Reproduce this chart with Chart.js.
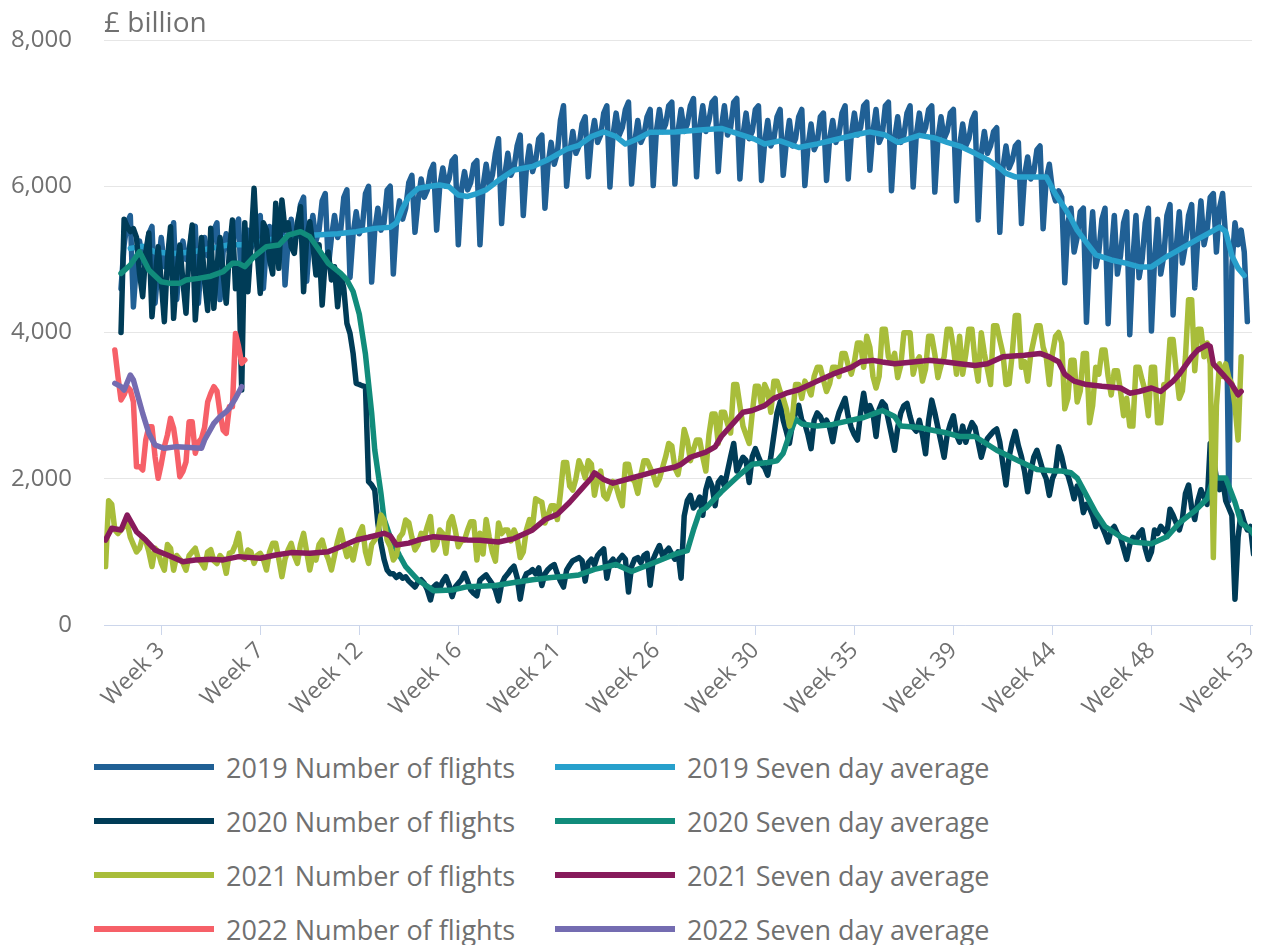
<!DOCTYPE html>
<html lang="en">
<head>
<meta charset="utf-8">
<title>Number of flights, seven day average</title>
<script src="https://cdn.jsdelivr.net/npm/chart.js@4.4.1/dist/chart.umd.min.js"></script>
<style>
  html, body { margin: 0; padding: 0; background: #ffffff; }
  body { width: 1265px; height: 945px; position: relative; overflow: hidden; font-family: 'Open Sans', sans-serif; }
  #wrap { position: absolute; left: 0; top: 0; width: 1265px; height: 740px; }
  #unit { position: absolute; left: 104px; top: 7px; font-size: 28px; line-height: 28px; color: #707070; }
  #legend { position: absolute; left: 0; top: 740px; width: 1265px; height: 205px; }
  .item { position: absolute; height: 54px; display: flex; align-items: center; font-size: 27px; color: #707070; white-space: nowrap; }
  .swatch { width: 120px; height: 6px; margin-right: 12px; }
</style>
</head>
<body>
<div id="wrap"><canvas id="chart" width="1265" height="740"></canvas></div>
<div id="unit">£ billion</div>
<div id="legend"></div>
<script>
// x axis: day slots, labelled by week
const tickDays = [18, 50, 82, 114, 146, 178, 210, 242, 274, 306, 338, 370];
const tickLabels = ['Week 3', 'Week 7', 'Week 12', 'Week 16', 'Week 21', 'Week 26',
                    'Week 30', 'Week 35', 'Week 39', 'Week 44', 'Week 48', 'Week 53'];
const yTicks = [0, 2000, 4000, 6000, 8000];

const names = ['2019 Number of flights', '2019 Seven day average',
               '2020 Number of flights', '2020 Seven day average',
               '2021 Number of flights', '2021 Seven day average',
               '2022 Number of flights', '2022 Seven day average'];
const colours = ['#206095', '#27a0cc', '#003c57', '#118c7b',
                 '#a8bd3a', '#871a5b', '#f66068', '#746cb1'];

// daily counts, first value sits on slot startXXXX
const start2019 = 5;
const flights2019 = [4600, 5200, 5500, 5600,
  4350, 4950, 5250, 4950, 5050, 5350, 5450,
  4400, 4900, 5300, 4900, 5000, 5300, 5500,
  4450, 5000, 5250, 5000, 5100, 5400, 5450,
  4400, 5050, 5300, 5050, 5100, 5400, 5500,
  4450, 5100, 5350, 5100, 5150, 5450, 5550,
  4500, 5150, 5400, 5150, 5250, 5500, 5600,
  4600, 5200, 5450, 5200, 5300, 5600, 5750,
  4650, 5250, 5550, 5250, 5350, 5750, 5850,
  4700, 5300, 5600, 5250, 5400, 5800, 5900,
  4900, 5300, 5600, 5300, 5400, 5850, 5950,
  4750, 5350, 5650, 5350, 5450, 5900, 6000,
  4690, 5400, 5700, 5400, 5500, 5950, 6000,
  4800, 5500, 5800, 5550, 5700, 6050, 6150,
  5370, 5800, 6100, 5850, 5950, 6200, 6300,
  5400, 6000, 6250, 6000, 6100, 6350, 6400,
  5200, 5950, 6200, 5950, 6050, 6300, 6350,
  5200, 6000, 6300, 6000, 6150, 6450, 6650,
  5490, 6150, 6450, 6150, 6250, 6550, 6700,
  5600, 6250, 6550, 6200, 6350, 6650, 6700,
  5700, 6300, 6600, 6300, 6450, 6900, 7100,
  6000, 6450, 6750, 6450, 6550, 6850, 6950,
  6130, 6650, 6900, 6600, 6700, 7000, 7100,
  5990, 6700, 7000, 6700, 6800, 7050, 7150,
  6030, 6600, 6900, 6600, 6700, 6950, 7050,
  6010, 6750, 7050, 6750, 6850, 7100, 7150,
  6030, 6750, 7050, 6750, 6850, 7100, 7200,
  6130, 6800, 7100, 6750, 6900, 7150, 7200,
  6200, 6800, 7100, 6700, 6800, 7150, 7200,
  6100, 6700, 7000, 6650, 6750, 7050, 7100,
  6080, 6600, 6900, 6550, 6650, 6950, 7050,
  6150, 6600, 6900, 6550, 6650, 6950, 7050,
  6010, 6550, 6850, 6500, 6600, 6950, 7000,
  6080, 6650, 6900, 6600, 6700, 7000, 7100,
  6100, 6700, 7000, 6700, 6800, 7100, 7150,
  6220, 6750, 7050, 6600, 6700, 7100, 7150,
  5940, 6650, 6950, 6600, 6700, 7000, 7100,
  5990, 6700, 7000, 6700, 6800, 7050, 7100,
  5920, 6650, 6950, 6650, 6750, 7000, 7050,
  5800, 6550, 6850, 6550, 6650, 6900, 7000,
  5540, 6450, 6750, 6450, 6550, 6750, 6800,
  5370, 6250, 6550, 6250, 6350, 6550, 6600,
  5490, 6150, 6400, 6100, 6200, 6500, 6550,
  5420, 6100, 6300, 5950, 5800, 5938, 5850,
  4680, 5500, 5700, 5100, 5300, 5650, 5700,
  4140, 5100, 5650, 4900, 5100, 5550, 5700,
  4120, 5050, 5600, 4800, 5050, 5500, 5650,
  3970, 5000, 5600, 4750, 5000, 5500, 5700,
  4020, 5000, 5550, 4800, 5050, 5600, 5750,
  4240, 5150, 5650, 4950, 5200, 5600, 5750,
  4610, 5300, 5800, 5200, 5400, 5850, 5900,
  5100, 5700, 5900, 5300, 1700, 4900, 5500,
  5200, 5400, 5100, 4150];

const start2020 = 5;
const flights2020 = [4000, 5550, 5450, 5380, 5420, 5300, 4800, 4490, 5100, 5360, 4216, 4750, 5174,
  4700, 4148, 5000, 5447, 4194, 4800, 5196, 4700, 4262, 5100, 5470, 4171, 4750,
  5300, 4700, 4300, 5424, 4330, 4900, 5300, 4800, 4399, 5100, 5538, 4600, 4900, 3213, 5500,
  4558, 5200, 5971, 5100, 4535, 5500, 5400, 5000, 4800, 5766, 4877, 5812, 5400, 5500, 5173,
  5082, 5500, 5720, 4558, 5300, 5515, 5200, 4786, 5200, 4376, 5000, 5100, 4718, 4900, 4353, 4800,
  4600, 4125, 3988, 3715, 3305, 3290, 3270, 3259, 1960, 1915, 1846, 1390, 1117, 900, 752, 700,
  700, 650, 690, 640, 660, 600, 560, 520, 590, 620, 570, 480, 342, 520, 560, 500, 600, 661, 550,
  388, 520, 570, 620, 707, 600, 480, 433, 400, 615,
  650, 685, 620, 560, 480, 330, 560, 650, 700, 760, 803, 650, 354, 600, 700, 720, 756, 700, 780,
  540, 700, 760, 800, 827, 700, 600, 519, 750, 820, 880, 900, 922,
  880, 600, 850, 900, 820, 950, 1000, 1040, 640, 850, 900, 820, 900, 950, 900, 450, 800, 900,
  922, 850, 950, 980, 543, 900, 1000, 1087, 950, 1000, 1050, 969,
  900, 1000, 640, 1490, 1700, 1773, 1600, 1650, 1750, 1500, 1850, 2000, 1900, 1631, 1950, 2010,
  1900, 2100, 2300, 2483, 2105, 2200, 2294, 2250, 1950, 2300, 2412, 2300, 2200, 2152, 2050,
  2300, 2600, 2900, 3051, 2800, 2650, 2483, 2750, 2900, 3004, 2800, 2750, 2600, 2412, 2800, 2900,
  2850, 2750, 2800, 2700, 2507, 2750, 2900, 3000, 3099, 2850, 2700, 2600, 2530, 2900, 3170,
  2900, 3000, 2900, 2578, 2950, 3051, 3000, 2800, 2600, 2389, 2700, 2900, 3000, 3030, 2850, 2700,
  2650, 2800, 2600, 2341, 2800, 3075, 2900, 2700, 2500, 2294, 2600, 2750, 2862, 2600, 2500,
  2720, 2500, 2650, 2767, 2700, 2500, 2294, 2450, 2550, 2600, 2650, 2680, 2500, 2200, 1915,
  2300, 2500, 2649, 2450, 2300, 2100, 1821, 2100, 2300, 2389, 2250, 2100, 2000, 1773, 2000,
  2100, 2436, 2300, 2105, 2050, 1900, 1726, 1900, 1800, 1537, 1650, 1600, 1500, 1347, 1450, 1350,
  1250, 1135, 1300, 1347, 1250, 1200, 1050, 898, 1100, 1200, 1150, 1250, 1300, 1050, 898,
  1000, 1300, 1250, 1350, 1300, 1250, 1584, 1500, 1394, 1300, 1450, 1800, 1915, 1600, 1442, 1700,
  1850, 1750, 1650, 2483, 2300, 2000, 1850, 2000, 1700, 1600, 1500, 353, 1200, 1550, 1400, 1300,
  1347, 969];

const start2021 = 0;
const flights2021 = [800, 1700, 1650, 1300, 1250, 1300, 1350,
  1400, 1200, 1100, 1000, 1050, 1200, 1150,
  1000, 800, 1050, 1000, 850, 750, 1100,
  1050, 750, 950, 900, 850, 750, 950,
  1000, 1050, 900, 850, 780, 1000, 1030,
  880, 840, 950, 900, 707, 980, 1000,
  1100, 1253, 935, 900, 1026, 1000, 843,
  950, 980, 900, 752, 1000, 1117, 1117,
  900, 661, 900, 1026, 1117, 950, 843,
  1100, 1253, 1000, 752, 950, 889, 1100,
  1162, 1000, 900, 752, 950, 1150, 1299,
  1100, 935, 1050, 889, 1100, 1250, 1345,
  1000, 843, 1100, 1162, 1254, 1504, 1436,
  1162, 1071, 889, 950, 1200, 1254, 1436,
  1400, 1200, 1026, 1100, 1254, 1200, 1350,
  1482, 1026, 1100, 1299, 1250, 980, 1400,
  1482, 1300, 1071, 1150, 1162, 1300, 1413,
  1413, 889, 1254, 970, 1442, 1200, 1000,
  874, 1395, 1250, 1300, 1300, 1150, 1300,
  1200, 922, 1000, 1300, 1442, 1350, 1726,
  1700, 1679, 1395, 1500, 1631, 1631, 1442,
  1800, 2223, 2223, 1900, 1845, 2000, 2247,
  2150, 2010, 2247, 2200, 1773, 2000, 2105,
  1773, 1726, 1850, 1963, 1900, 1750, 1631,
  2200, 2200, 2000, 1963, 1800, 2050, 2247,
  2247, 2150, 2057, 1915, 2000, 2152, 2300,
  2483, 2450, 2150, 2057, 2300, 2673, 2531,
  2247, 2400, 2531, 2531, 2300, 2105, 2600,
  2886, 2886, 2483, 2909, 2909, 2750, 2625,
  3288, 3288, 3000, 2720, 2600, 2483, 2900,
  3264, 3264, 3000, 3288, 3193, 2909, 3335,
  3335, 3193, 3100, 2957, 2720, 2850, 3288,
  3288, 3100, 3335, 3250, 3146, 3400, 3524,
  3524, 3350, 3193, 3300, 3524, 3524, 3400,
  3714, 3714, 3550, 3430, 3600, 3856, 3856,
  3524, 3950, 3800, 3400, 3241, 3400, 4045,
  4045, 3667, 3600, 3714, 3383, 3550, 3998,
  3998, 3998, 3430, 3600, 3667, 3335, 3500,
  3950, 3950, 3700, 3383, 3550, 3667, 4045,
  4045, 3800, 3430, 3950, 3430, 3700, 4045,
  4045, 3600, 3335, 3998, 3714, 3500, 3288,
  4093, 4093, 3900, 3714, 3288, 3300, 3700,
  4234, 4234, 3524, 3600, 3335, 3700, 3900,
  4093, 4093, 3800, 3667, 3288, 3714, 3950,
  4000, 3856, 2957, 3100, 3619, 3619, 3051,
  3200, 3714, 3714, 2767, 3000, 3524, 3430,
  3761, 3761, 3400, 3146, 3477, 3477, 3200,
  2862, 3100, 2720, 2720, 3524, 3524, 3350,
  3193, 2862, 3524, 3524, 2767, 2767, 3288,
  3288, 3903, 3903, 3477, 3099, 3200, 3667,
  4448, 4448, 3477, 4045, 4045, 3667, 3856,
  3572, 922, 3000, 3572, 3400, 3572, 3383,
  3300, 3000, 2531, 3667];

const start2022 = 3;
const flights2022 = [3760, 3400, 3077, 3150, 3260, 3213, 3054, 2165, 2165, 2120, 2530, 2712, 2712,
  2300, 2006, 2200, 2439, 2600, 2826, 2690, 2400, 2028, 2100, 2230, 2780, 2780, 2350, 2500,
  2550, 2700, 3050, 3168, 3259, 3200, 2900, 2666, 2621, 2986, 2986, 3988, 3806, 3578, 3624];

// seven day averages, read at the slots where the line bends
const avg2019Day = [8, 12, 16, 22, 28, 34, 40, 45, 50, 56, 62, 68, 75, 81, 87, 92, 94, 96, 98, 101,
  104, 108, 111, 114, 117, 120, 123, 127, 132, 138, 143, 149, 153, 157, 161, 165, 168, 172, 176, 184,
  192, 199, 206, 210, 213, 218, 224, 230, 236, 242, 247, 252, 256, 263, 268, 272, 276, 281, 285, 289,
  291, 294, 304, 307, 310, 312, 314, 317, 320, 325, 330, 334, 338, 343, 347, 353, 357, 360, 362, 364,
  366, 368];
const avg2019 = [5150, 5180, 5100, 5080, 5100, 5150, 5200, 5200, 5250, 5290, 5320, 5333, 5350, 5379,
  5424, 5440, 5500, 5700, 5857, 5971, 5994, 6017, 5994, 5880, 5860, 5900, 5950, 6080, 6222, 6270,
  6364, 6507, 6560, 6680, 6743, 6680, 6577, 6650, 6740, 6743, 6770, 6790, 6696, 6640, 6577, 6620,
  6530, 6580, 6640, 6700, 6743, 6700, 6601, 6696, 6660, 6600, 6550, 6450, 6364, 6250, 6175, 6128,
  6128, 5891, 5700, 5560, 5400, 5228, 5063, 4992, 4945, 4897, 4897, 5039, 5134, 5276, 5370, 5442,
  5380, 5050, 4880, 4780];

const avg2020Day = [5, 8, 11, 14, 18, 21, 24, 26, 30, 34, 38, 41, 43, 45, 48, 52, 56, 59, 61, 63,
  66, 69, 72, 76, 78, 80, 82, 84, 86, 87, 89, 90, 92, 95, 97, 101, 106, 112, 117, 121, 126, 132,
  138, 144, 150, 153, 158, 165, 170, 176, 180, 184, 188, 190, 192, 194, 199, 205, 209, 214, 217,
  219, 221, 223, 225, 230, 235, 240, 245, 249, 251, 255, 257, 263, 266, 272, 276, 281, 288, 295,
  301, 307, 309, 312, 314, 317, 320, 323, 328, 332, 338, 343, 347, 352, 356, 358, 362, 365, 367,
  370, 372];
const avg2020 = [4809, 4923, 5105, 4854, 4695, 4672, 4672, 4718, 4740, 4770, 4832, 4946, 4946, 4900,
  5037, 5174, 5196, 5330, 5356, 5379, 5310, 5128, 4946, 4809, 4718, 4560, 4250, 3700, 2900, 2393,
  1800, 1450, 1200, 950, 797, 615, 470, 479, 524, 530, 540, 580, 620, 650, 670, 685, 760, 827, 732,
  830, 900, 969, 1016, 1300, 1550, 1600, 1821, 2057, 2199, 2223, 2247, 2350, 2600, 2815, 2750,
  2720, 2743, 2791, 2838, 2900, 2933, 2850, 2720, 2700, 2673, 2625, 2578, 2578, 2389, 2247, 2128,
  2105, 2105, 2081, 2010, 1773, 1537, 1347, 1206, 1135, 1111, 1206, 1395, 1560, 1726, 2010, 2010,
  1679, 1395, 1300, 1182];

const avg2021Day = [0, 2, 5, 7, 10, 13, 16, 20, 25, 29, 34, 38, 43, 50, 55, 60, 66, 72, 76, 81, 85,
  90, 92, 94, 98, 101, 106, 112, 117, 121, 127, 132, 138, 142, 146, 150, 154, 157, 158, 161, 164,
  170, 174, 178, 184, 186, 189, 194, 197, 199, 203, 206, 209, 213, 216, 220, 224, 230, 235, 241,
  244, 248, 251, 255, 261, 266, 271, 276, 281, 285, 290, 297, 302, 305, 308, 310, 313, 317, 322,
  328, 331, 334, 338, 341, 345, 347, 351, 353, 356, 357, 358, 361, 364, 365, 366, 367];
const avg2021 = [1162, 1322, 1299, 1504, 1276, 1162, 1026, 957, 866, 889, 900, 890, 935, 912, 957,
  990, 980, 1003, 1071, 1162, 1200, 1254, 1220, 1094, 1120, 1162, 1208, 1185, 1162, 1158, 1135,
  1182, 1300, 1442, 1513, 1679, 1868, 2010, 2081, 1990, 1939, 2010, 2057, 2105, 2160, 2199, 2294,
  2365, 2436, 2578, 2767, 2909, 2933, 3000, 3099, 3170, 3217, 3335, 3430, 3524, 3600, 3619, 3596,
  3572, 3596, 3619, 3600, 3572, 3548, 3572, 3667, 3690, 3714, 3667, 3600, 3430, 3335, 3288, 3264,
  3241, 3170, 3193, 3241, 3193, 3335, 3430, 3667, 3761, 3832, 3809, 3572, 3430, 3288, 3217, 3146,
  3193];

const avg2022Day = [3, 5, 6, 8, 9, 12, 14, 16, 19, 23, 26, 31, 32, 35, 37, 39, 40, 42, 44];
const avg2022 = [3305, 3260, 3213, 3419, 3350, 2894, 2621, 2462, 2416, 2439, 2430, 2416, 2530, 2758,
  2850, 2917, 2963, 3100, 3259];

function daily(start, values) {
  return values.map((v, i) => ({ x: start + i, y: v }));
}
function knots(days, values) {
  return days.map((d, i) => ({ x: d, y: values[i] }));
}

const series = [
  daily(start2019, flights2019), knots(avg2019Day, avg2019),
  daily(start2020, flights2020), knots(avg2020Day, avg2020),
  daily(start2021, flights2021), knots(avg2021Day, avg2021),
  daily(start2022, flights2022), knots(avg2022Day, avg2022)
];

const textGrey = '#707070';

new Chart(document.getElementById('chart'), {
  type: 'line',
  data: {
    datasets: series.map((pts, i) => ({
      label: names[i],
      data: pts,
      borderColor: colours[i],
      backgroundColor: colours[i],
      borderWidth: 5.5,
      borderJoinStyle: 'round',
      borderCapStyle: 'round',
      pointRadius: 0,
      pointHoverRadius: 0,
      tension: 0,
      fill: false,
      order: 7 - i   // later series are drawn over earlier ones
    }))
  },
  options: {
    responsive: false,
    animation: false,
    devicePixelRatio: 1,
    layout: { padding: { top: 40, right: 13, left: 0, bottom: 0 } },
    plugins: { legend: { display: false }, tooltip: { enabled: false } },
    scales: {
      x: {
        type: 'linear',
        min: -0.5,
        max: 370.5,
        afterBuildTicks: (s) => { s.ticks = tickDays.map(v => ({ value: v })); },
        afterFit: (s) => {
          s.height = 115;
          // the last rotated label may hang past the plot edge
          s.paddingRight = 0;
        },
        ticks: {
          autoSkip: false,
          minRotation: 45,
          maxRotation: 45,
          padding: 2,
          color: textGrey,
          font: { family: "'Open Sans', sans-serif", size: 23 },
          callback: (v, i) => tickLabels[i]
        },
        grid: { drawOnChartArea: false, tickLength: 10, tickColor: '#ccd6eb', tickWidth: 1 },
        border: { display: true, color: '#ccd6eb', width: 1 }
      },
      y: {
        min: 0,
        max: 8000,
        afterBuildTicks: (s) => { s.ticks = yTicks.map(v => ({ value: v })); },
        afterFit: (s) => { s.width = 104; },
        ticks: {
          padding: 2,
          color: textGrey,
          font: { family: "'Open Sans', sans-serif", size: 24 },
          callback: (v) => v.toLocaleString('en-GB')
        },
        // invisible tick marks keep the labels clear of the plot
        grid: { color: '#e6e6e6', lineWidth: 1, drawTicks: true, tickLength: 30, tickColor: 'rgba(0,0,0,0)' },
        border: { display: false }
      }
    }
  }
});

// legend, two columns
const legend = document.getElementById('legend');
names.forEach((n, i) => {
  const item = document.createElement('div');
  item.className = 'item';
  item.style.left = (i % 2 === 0 ? 94 : 555) + 'px';
  item.style.top = (Math.floor(i / 2) * 54) + 'px';
  const sw = document.createElement('span');
  sw.className = 'swatch';
  sw.style.background = colours[i];
  const label = document.createElement('span');
  label.textContent = n;
  item.appendChild(sw);
  item.appendChild(label);
  legend.appendChild(item);
});
</script>
</body>
</html>
